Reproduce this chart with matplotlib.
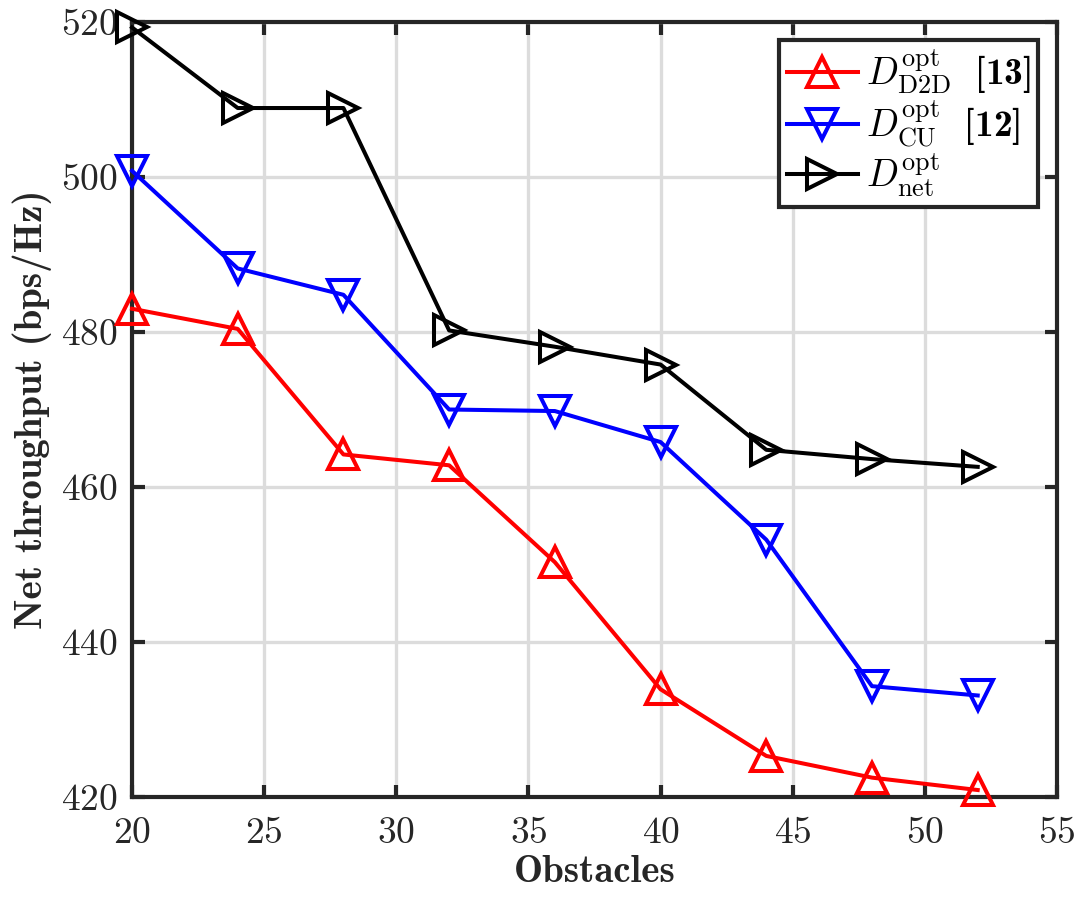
import numpy as np
import matplotlib.pyplot as plt

plt.rcParams['font.family'] = 'serif'
plt.rcParams['font.serif'] = ['cmr10']
plt.rcParams['mathtext.fontset'] = 'custom'
plt.rcParams['mathtext.rm'] = 'cmr10'
plt.rcParams['mathtext.it'] = 'cmmi10'
plt.rcParams['mathtext.bf'] = 'cmb10'
plt.rcParams['axes.formatter.use_mathtext'] = True

# data
obstacles = [20, 24, 28, 32, 36, 40, 44, 48, 52]
d2d = [483.0, 480.4, 464.2, 462.8, 450.3, 433.9, 425.3, 422.5, 420.9]
cu = [500.8, 488.2, 484.8, 470.0, 469.8, 465.8, 453.2, 434.3, 433.1]
net = [519.3, 508.9, 508.9, 480.2, 478.1, 475.8, 464.8, 463.6, 462.6]

labels = [r'$D^{\rm opt}_{\rm D2D}\ \ \mathbf{[13]}$',
          r'$D^{\rm opt}_{\rm CU}\ \ \mathbf{[12]}$',
          r'$D^{\rm opt}_{\rm net}$']

W, H = 1090, 899
fig = plt.figure(figsize=(W / 100, H / 100), dpi=100)
ax = fig.add_axes([132 / W, 1 - 797 / H, (1057 - 132) / W, (797 - 22) / H])

kw = dict(lw=2.9, ms=21, mew=2.9, mfc='none', clip_on=False, zorder=3)
ax.plot(obstacles, d2d, '-^', color='#ff0000', label=labels[0], **kw)
ax.plot(obstacles, cu, '-v', color='#0000ff', label=labels[1], **kw)
ax.plot(obstacles, net, '->', color='#000000', label=labels[2], **kw)

ax.set_xlim(20, 55)
ax.set_ylim(420, 520)
ax.set_xticks(np.arange(20, 56, 5))
ax.set_yticks(np.arange(420, 521, 20))
ax.grid(True, color='#dcdcdc', lw=2.4)
ax.set_axisbelow(True)
for s in ax.spines.values():
    s.set_linewidth(3)
    s.set_color('#262626')
ax.tick_params(direction='in', length=9, width=3, color='#262626',
               top=True, right=True, labelsize=27, labelcolor='#262626')
ax.tick_params(axis='x', pad=14)
ax.tick_params(axis='y', pad=10)

ax.set_xlabel('Obstacles', fontfamily='cmb10', fontsize=28, color='#262626',
              va='baseline')
ax.xaxis.set_label_coords(0.5, -85 / (797 - 22))
ax.set_ylabel('Net throughput (bps/Hz)', fontfamily='cmb10', fontsize=28,
              color='#262626', va='center')
ax.yaxis.set_label_coords(-100 / (1057 - 132), 0.5)

leg = ax.legend(loc='upper right', bbox_to_anchor=(1038 / W, 1 - 40 / H),
                bbox_transform=fig.transFigure, fontsize=27, frameon=True,
                fancybox=False, handlelength=1.9, handletextpad=0.2,
                labelspacing=0.05, borderpad=0.2, borderaxespad=0)
leg.get_frame().set_edgecolor('#262626')
leg.get_frame().set_linewidth(3)
leg.get_frame().set_alpha(1)

fig.savefig('out.png', dpi=100)
